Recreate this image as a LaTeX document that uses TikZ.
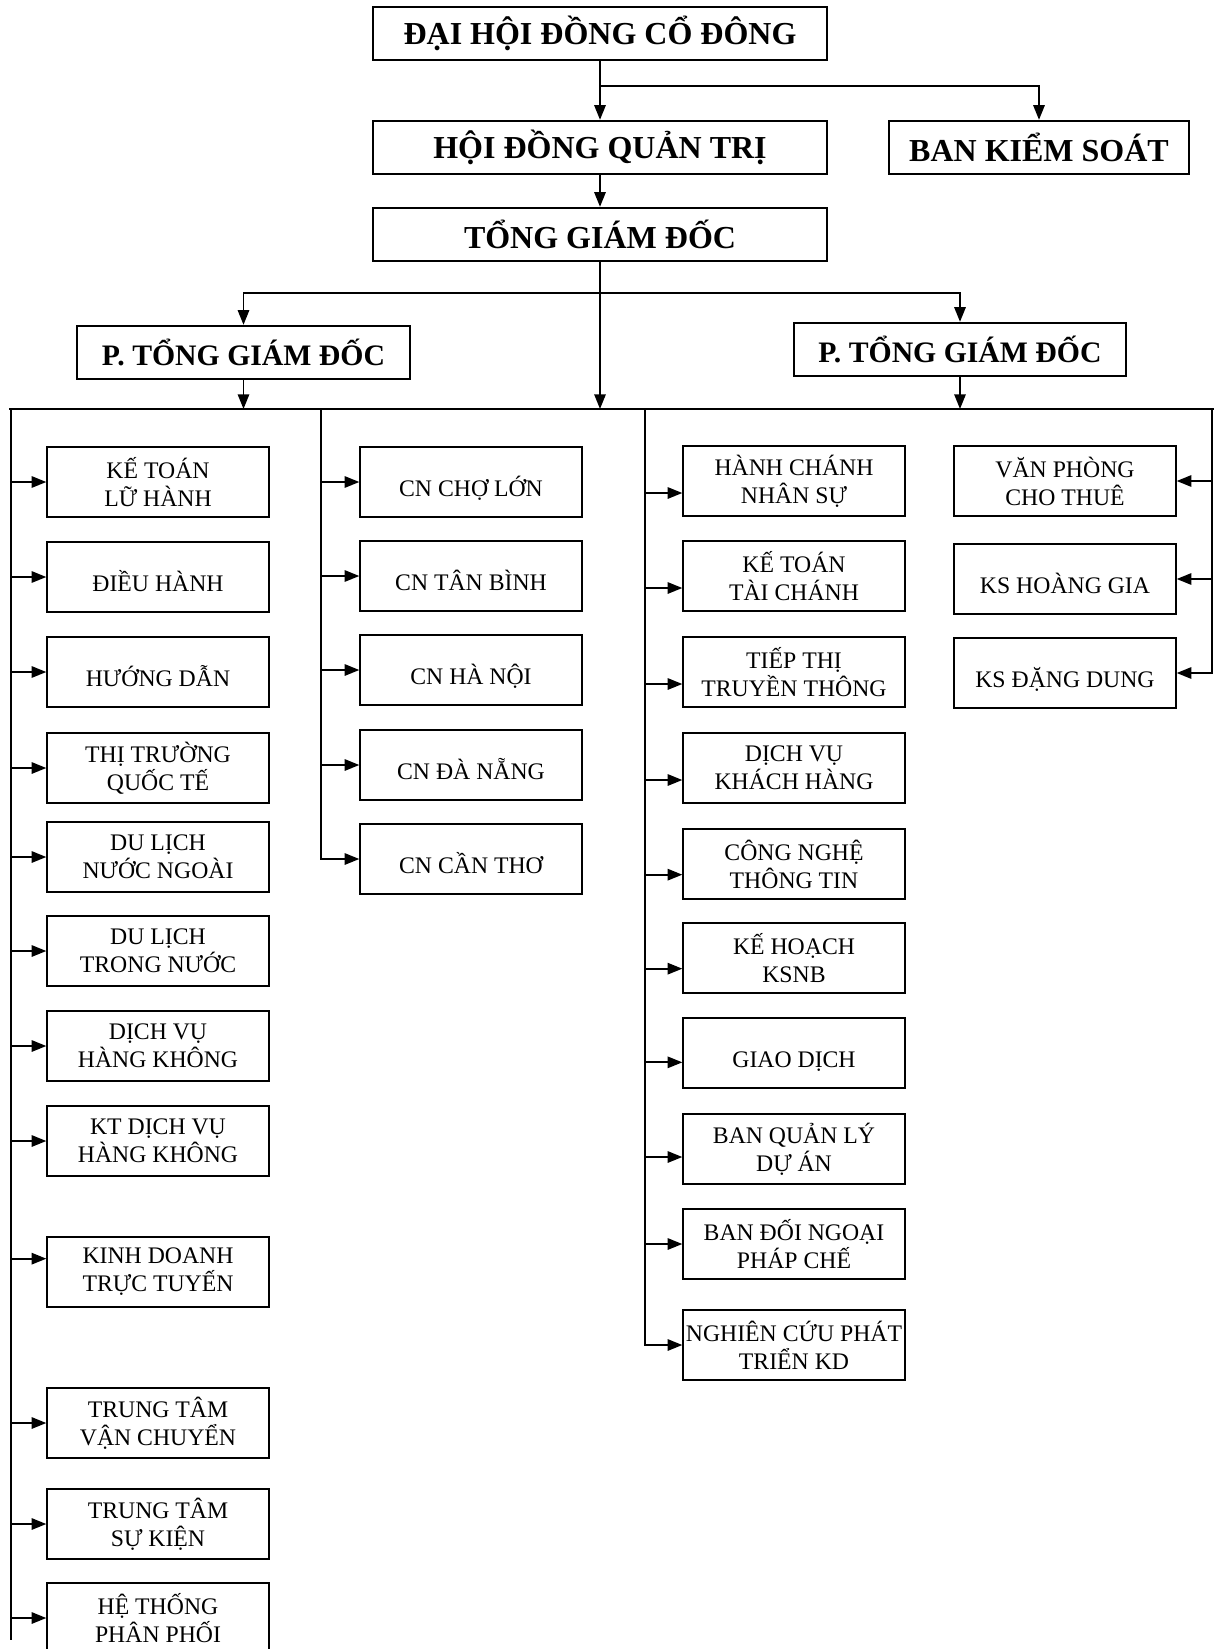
\documentclass[tikz,border=0pt]{standalone}
\usepackage{fontspec}
\setmainfont{Liberation Serif}
\usetikzlibrary{arrows.meta}

\begin{document}
\begin{tikzpicture}[x=0.75pt,y=0.75pt,yscale=-1,xscale=1,
  line width=1.4pt,
  head/.style={draw,line width=1.5pt,minimum height=40pt,inner sep=0.75pt,font=\fontsize{24}{28}\selectfont\bfseries},
  unit/.style={draw,line width=1.5pt,minimum width=166pt,minimum height=53pt,inner sep=0.75pt,align=center,font=\fontsize{17.8}{21}\selectfont},
  low/.style={text height=22pt,text depth=0pt},
  arr/.style={-{Triangle[length=11pt,width=8.5pt]}}]
%uncomment if require: \path (0,1649); %set diagram left start at 0, and has height of 1649
\useasboundingbox (0,0) rectangle (1214,1649);

% Text Node
\draw (600,33.5) node [head,minimum width=341pt] (dhdcd) {ĐẠI HỘI ĐỒNG CỔ ĐÔNG};
% Text Node
\draw (600,147.5) node [head,minimum width=341pt] (hdqt) {HỘI ĐỒNG QUẢN TRỊ};
% Text Node
\draw (1039,147.5) node [head,minimum width=225pt] (bks) {BAN KIỂM SOÁT};
% Text Node
\draw (600,234.5) node [head,minimum width=341pt] (tgd) {TỔNG GIÁM ĐỐC};
% Text Node
\draw (243.5,352.5) node [head,minimum width=250pt,font=\fontsize{22.3}{26}\selectfont\bfseries] (ptgdL) {P. TỔNG GIÁM ĐỐC};
% Text Node
\draw (960,349.5) node [head,minimum width=249pt,font=\fontsize{22.3}{26}\selectfont\bfseries] (ptgdR) {P. TỔNG GIÁM ĐỐC};

% Text Node
\draw (158,482) node [unit] (ktlh) {KẾ TOÁN\\LỮ HÀNH};
% Text Node
\draw (158,577) node [unit,low] (dieuhanh) {ĐIỀU HÀNH};
% Text Node
\draw (158,672) node [unit,low] (huongdan) {HƯỚNG DẪN};
% Text Node
\draw (158,768) node [unit] (ttqt) {THỊ TRƯỜNG\\QUỐC TẾ};
% Text Node
\draw (158,857) node [unit] (dlnn) {DU LỊCH\\NƯỚC NGOÀI};
% Text Node
\draw (158,951) node [unit] (dltn) {DU LỊCH\\TRONG NƯỚC};
% Text Node
\draw (158,1046) node [unit] (dvhk) {DỊCH VỤ\\HÀNG KHÔNG};
% Text Node
\draw (158,1141) node [unit] (ktdvhk) {KT DỊCH VỤ\\HÀNG KHÔNG};
% Text Node
\draw (158,1272) node [unit] (kdtt) {KINH DOANH\\TRỰC TUYẾN};
% Text Node
\draw (158,1423) node [unit] (ttvc) {TRUNG TÂM\\VẬN CHUYỂN};
% Text Node
\draw (158,1524) node [unit] (ttsk) {TRUNG TÂM\\SỰ KIỆN};
% Text Node
\draw (158,1618) node [unit] (htpp) {HỆ THỐNG\\PHÂN PHỐI};

% Text Node
\draw (471,482) node [unit,low] (cncl) {CN CHỢ LỚN};
% Text Node
\draw (471,576) node [unit,low] (cntb) {CN TÂN BÌNH};
% Text Node
\draw (471,670) node [unit,low] (cnhn) {CN HÀ NỘI};
% Text Node
\draw (471,765) node [unit,low] (cndn) {CN ĐÀ NẴNG};
% Text Node
\draw (471,859) node [unit,low] (cnct) {CN CẦN THƠ};

% Text Node
\draw (794,481) node [unit] (hcns) {HÀNH CHÁNH\\NHÂN SỰ};
% Text Node
\draw (794,576) node [unit] (kttc) {KẾ TOÁN\\TÀI CHÁNH};
% Text Node
\draw (794,672) node [unit] (tttt) {TIẾP THỊ\\TRUYỀN THÔNG};
% Text Node
\draw (794,768) node [unit] (dvkh) {DỊCH VỤ\\KHÁCH HÀNG};
% Text Node
\draw (794,864) node [unit] (cntt) {CÔNG NGHỆ\\THÔNG TIN};
% Text Node
\draw (794,958) node [unit] (khks) {KẾ HOẠCH\\KSNB};
% Text Node
\draw (794,1053) node [unit,low] (giaodich) {GIAO DỊCH};
% Text Node
\draw (794,1149) node [unit] (bqlda) {BAN QUẢN LÝ\\DỰ ÁN};
% Text Node
\draw (794,1244) node [unit] (bdnpc) {BAN ĐỐI NGOẠI\\PHÁP CHẾ};
% Text Node
\draw (794,1345) node [unit,inner sep=0pt] (ncpt) {NGHIÊN CỨU PHÁT\\TRIỂN KD};

% Text Node
\draw (1065,481) node [unit] (vpct) {VĂN PHÒNG\\CHO THUÊ};
% Text Node
\draw (1065,579) node [unit,low] (kshg) {KS HOÀNG GIA};
% Text Node
\draw (1065,673) node [unit,low] (ksdd) {KS ĐẶNG DUNG};

\coordinate (j1) at (600,86);
\coordinate (j2) at (600,293);
\coordinate (busL) at (9,409);
\coordinate (busR) at (1214,409);
\coordinate (c1) at (11,409);
\coordinate (c1end) at (13,1640);
\coordinate (c2) at (321,409);
\coordinate (c3) at (645,409);
\coordinate (c4) at (1212,409);

%Straight Lines
\draw [arr] (dhdcd) -- (hdqt);
\draw [arr] (j1) -| (bks);
\draw [arr] (hdqt) -- (tgd);
\draw [arr] (j2) -| (ptgdL);
\draw [arr] (j2) -| (ptgdR);
\draw [arr] (tgd) -- (tgd |- busL);
\draw [arr] (ptgdL) -- (ptgdL |- busL);
\draw [arr] (ptgdR) -- (ptgdR |- busL);
\draw (busL) -- (busR);

%Straight Lines
\draw (c1) -- (c1 |- c1end);
\draw [arr] (c1) |- (ktlh);
\draw [arr] (c1) |- (dieuhanh);
\draw [arr] (c1) |- (huongdan);
\draw [arr] (c1) |- (ttqt);
\draw [arr] (c1) |- (dlnn);
\draw [arr] (c1) |- (dltn);
\draw [arr] (c1) |- (dvhk);
\draw [arr] (c1) |- (ktdvhk);
\draw [arr] (c1) |- ([yshift=-10pt]kdtt.west);
\draw [arr] (c1) |- (ttvc);
\draw [arr] (c1) |- (ttsk);
\draw [arr] (c1) |- (htpp);

%Straight Lines
\draw [arr] (c2) |- (cncl);
\draw [arr] (c2) |- (cntb);
\draw [arr] (c2) |- (cnhn);
\draw [arr] (c2) |- (cndn);
\draw [arr] (c2) |- (cnct);

%Straight Lines
\draw [arr] (c3) |- ([yshift=9pt]hcns.west);
\draw [arr] (c3) |- ([yshift=9pt]kttc.west);
\draw [arr] (c3) |- ([yshift=9pt]tttt.west);
\draw [arr] (c3) |- ([yshift=9pt]dvkh.west);
\draw [arr] (c3) |- ([yshift=8pt]cntt.west);
\draw [arr] (c3) |- ([yshift=8pt]khks.west);
\draw [arr] (c3) |- ([yshift=7pt]giaodich.west);
\draw [arr] (c3) |- ([yshift=6pt]bqlda.west);
\draw [arr] (c3) |- (bdnpc);
\draw [arr] (c3) |- (ncpt);

%Straight Lines
\draw [arr] (c4) |- (vpct);
\draw [arr] (c4) |- (kshg);
\draw [arr] (c4) |- (ksdd);

\end{tikzpicture}
\end{document}
